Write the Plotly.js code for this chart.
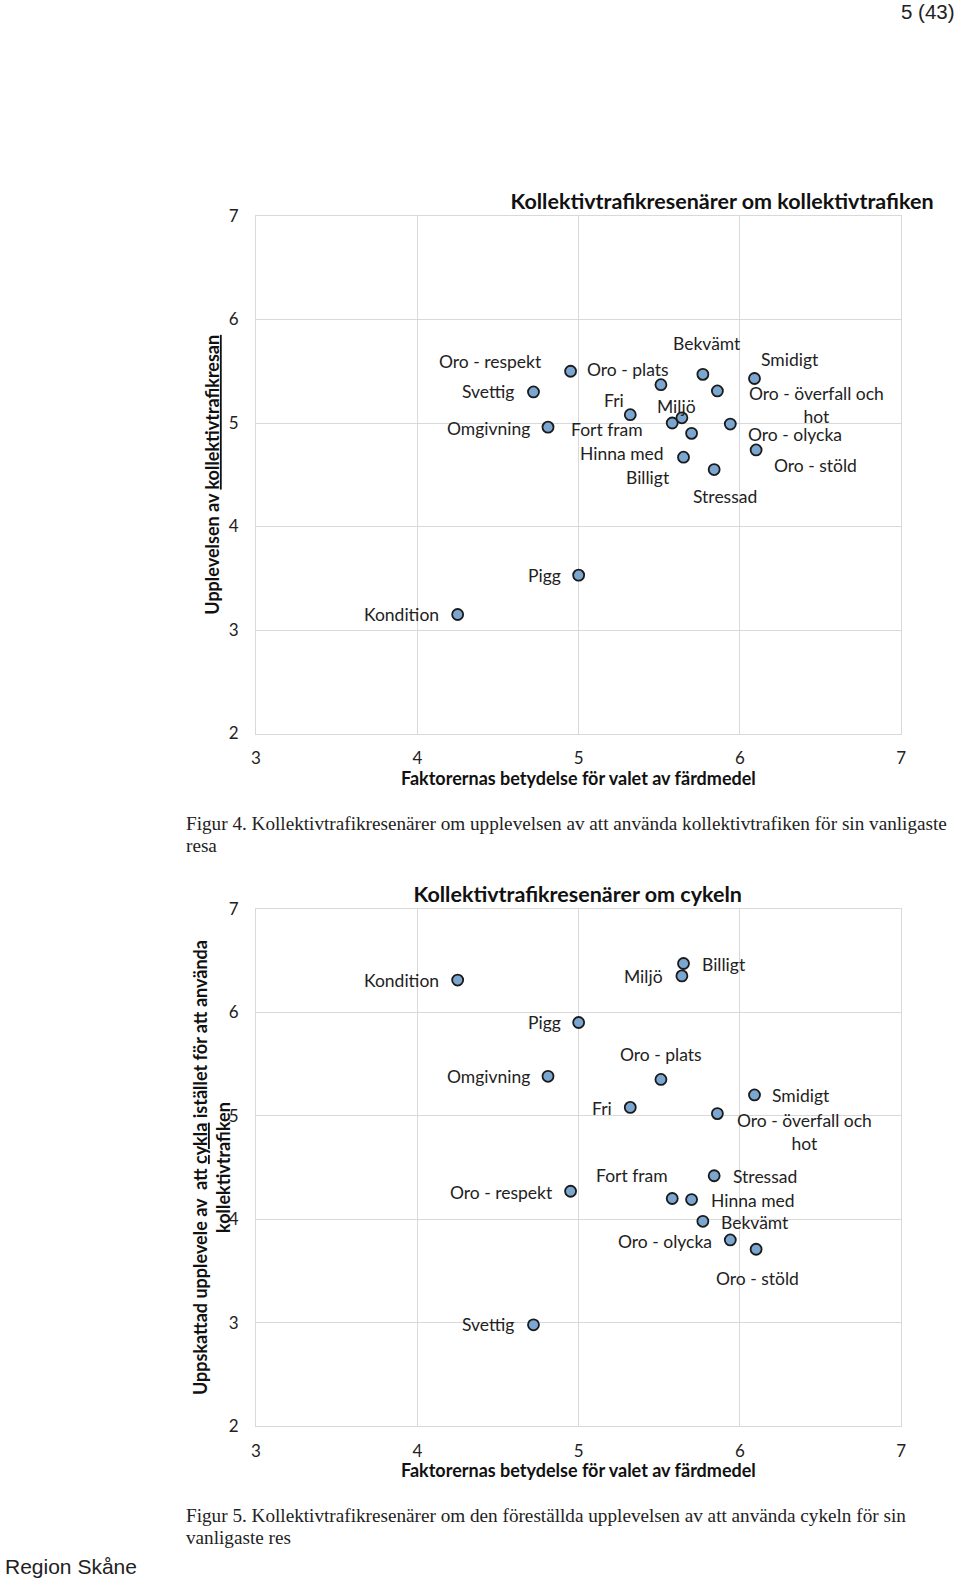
<!DOCTYPE html>
<html><head><meta charset="utf-8">
<script src="https://cdn.plot.ly/plotly-3.0.1.min.js"></script>
<style>
body{margin:0;padding:0;background:#fff;}
#c1{position:absolute;left:0;top:0;width:960px;height:860px;}
#c2{position:absolute;left:0;top:860px;width:960px;height:719px;}
</style>
</head><body>
<div id="c1"></div><div id="c2"></div>
<script>
// ---- data ----
const factors = ["Kondition","Pigg","Omgivning","Svettig","Oro - respekt","Fri","Oro - plats","Fort fram","Miljö","Billigt","Hinna med","Bekvämt","Stressad","Oro - överfall och hot","Oro - olycka","Smidigt","Oro - stöld"];
const labelText = ["Kondition","Pigg","Omgivning","Svettig","Oro - respekt","Fri","Oro - plats","Fort fram","Miljö","Billigt","Hinna med","Bekvämt","Stressad","Oro - överfall och<br>hot","Oro - olycka","Smidigt","Oro - stöld"];
// importance of the factor for choice of travel mode (x, shared)
const importance = [4.25, 5.00, 4.81, 4.72, 4.95, 5.32, 5.51, 5.58, 5.64, 5.65, 5.70, 5.77, 5.84, 5.86, 5.94, 6.09, 6.10];
// experience of the public transport trip (figure 4)
const experienceTransit = [3.15, 3.53, 4.96, 5.30, 5.50, 5.08, 5.37, 5.00, 5.05, 4.67, 4.90, 5.47, 4.55, 5.31, 4.99, 5.43, 4.74];
// estimated experience of cycling instead (figure 5)
const experienceBike = [6.31, 5.90, 5.38, 2.98, 4.27, 5.08, 5.35, 4.20, 6.35, 6.47, 4.19, 3.98, 4.42, 5.02, 3.80, 5.20, 3.71];
const xTicks = [3, 4, 5, 6, 7];
const yTicks = [2, 3, 4, 5, 6, 7];
const xTitle = 'Faktorernas betydelse för valet av färdmedel';

// ---- label placement (pixel offsets from each marker: dx right, dy down) ----
const offs1 = [[-56,0],[-34,0],[-60,1],[-45,0],[-80,-10],[-16,-14],[-33,-15],[-65,6],[-5,-11],[-36,20],[-70,20],[4,-31],[11,27],[99,14],[65,10],[36,-19],[59,16]];
const offs2 = [[-56,0],[-34,0],[-60,0],[-45,0],[-69,1],[-28,1],[0,-25],[-40,-23],[-38,1],[40,1],[61,1],[52,1],[51,1],[87,18],[-65,2],[47,1],[1,29]];

const FONT = "Lato, 'Open Sans', sans-serif";
const SERIF = "'Liberation Serif', 'Times New Roman', serif";
const ARIAL = "'Liberation Sans', Arial, sans-serif";
const GRID = '#d9d9d9';

function labels(yvals, offs){
  return factors.map((f,i)=>({
    x: importance[i], y: yvals[i], xref:'x', yref:'y',
    text: labelText[i], showarrow:false,
    xanchor:'center', yanchor:'middle',
    xshift: offs[i][0], yshift: -offs[i][1],
    font:{family:FONT, size:17.5, color:'#222'}
  }));
}

function axisX(){
  return {range:[3,7], tickvals:xTicks, showgrid:true, gridcolor:GRID, gridwidth:1,
    showline:true, mirror:true, linecolor:GRID, linewidth:1, zeroline:false, ticks:'',
    ticklabelstandoff:9, tickfont:{family:FONT, size:17, color:'#222'},
    domain:[256/960, 901.3/960], automargin:false, fixedrange:true};
}
function xTitleAnn(H, yc){
  return {xref:'paper', yref:'paper', x:578/960, y:1-yc/H, xanchor:'center', yanchor:'middle', showarrow:false,
    borderpad:0, text:'<b>'+xTitle+'</b>', font:{family:FONT, size:18, color:'#111'}};
}
function axisY(domain, title, standoff){
  return {range:[2,7], tickvals:yTicks, showgrid:true, gridcolor:GRID, gridwidth:1,
    showline:true, mirror:true, linecolor:GRID, linewidth:1, zeroline:false, ticks:'',
    ticklabelstandoff:13, tickfont:{family:FONT, size:17, color:'#222'},
    domain:domain, automargin:false, fixedrange:true,
    title:{text:title, standoff:standoff,
      font:{family:FONT, size:18, color:'#111', weight:'bold'}}};
}
const marker = {size:11, color:'#7aa6d0', line:{color:'#1a1a1a', width:1.8}};

// ---- figure 4 ----
const H1 = 860;
Plotly.newPlot('c1', [{
  type:'scatter', mode:'markers', x:importance, y:experienceTransit, text:factors,
  marker:marker, hoverinfo:'text+x+y'
}], {
  width:960, height:H1, margin:{l:0,r:0,t:0,b:0}, showlegend:false,
  paper_bgcolor:'#fff', plot_bgcolor:'#fff',
  title:{text:'Kollektivtrafikresenärer om kollektivtrafiken', xref:'container', yref:'container',
    x:722/960, y:1-201.5/H1, xanchor:'center', yanchor:'middle',
    font:{family:FONT, size:21.5, color:'#111', weight:'bold'}},
  xaxis:axisX(),
  yaxis:axisY([1-733.5/H1, 1-216/H1], 'Upplevelsen av <u>kollektivtrafikresan</u>', 4),
  annotations: labels(experienceTransit, offs1).concat([
    xTitleAnn(H1, 778),
    {xref:'paper', yref:'paper', x:957/960, y:1-11/H1, xanchor:'right', yanchor:'middle', showarrow:false,
     text:'5 (43)', font:{family:ARIAL, size:20.5, color:'#222'}},
    {xref:'paper', yref:'paper', x:184/960, y:1-823/H1, xanchor:'left', yanchor:'middle', align:'left', showarrow:false,
     text:'Figur 4. Kollektivtrafikresenärer om upplevelsen av att använda kollektivtrafiken för sin vanligaste',
     font:{family:SERIF, size:19.2, color:'#222'}},
    {xref:'paper', yref:'paper', x:184/960, y:1-845/H1, xanchor:'left', yanchor:'middle', align:'left', showarrow:false,
     text:'resa', font:{family:SERIF, size:19.2, color:'#222'}}
  ])
}, {displayModeBar:false, staticPlot:true});

// ---- figure 5 ----
const H2 = 719;
Plotly.newPlot('c2', [{
  type:'scatter', mode:'markers', x:importance, y:experienceBike, text:factors,
  marker:marker, hoverinfo:'text+x+y'
}], {
  width:960, height:H2, margin:{l:0,r:0,t:0,b:0}, showlegend:false,
  paper_bgcolor:'#fff', plot_bgcolor:'#fff',
  title:{text:'Kollektivtrafikresenärer om cykeln', xref:'container', yref:'container',
    x:577.7/960, y:1-34.5/H2, xanchor:'center', yanchor:'middle',
    font:{family:FONT, size:21.5, color:'#111', weight:'bold'}},
  xaxis:axisX(),
  yaxis:axisY([1-566.3/H2, 1-48.6/H2], '', 0),
  annotations: labels(experienceBike, offs2).concat([
    xTitleAnn(H2, 610),
    {xref:'paper', yref:'paper', x:211.5/960, y:1-307.5/H2, xanchor:'center', yanchor:'middle', showarrow:false,
     textangle:-90, align:'center',
     text:'<b>Uppskattad upplevele av  att <u>cykla</u> istället för att använda<br>kollektivtrafiken</b>',
     font:{family:FONT, size:18, color:'#111'}},
    {xref:'paper', yref:'paper', x:184/960, y:1-655/H2, xanchor:'left', yanchor:'middle', align:'left', showarrow:false,
     text:'Figur 5. Kollektivtrafikresenärer om den föreställda upplevelsen av att använda cykeln för sin',
     font:{family:SERIF, size:19.2, color:'#222'}},
    {xref:'paper', yref:'paper', x:184/960, y:1-677/H2, xanchor:'left', yanchor:'middle', align:'left', showarrow:false,
     text:'vanligaste res', font:{family:SERIF, size:19.2, color:'#222'}},
    {xref:'paper', yref:'paper', x:3/960, y:1-706/H2, xanchor:'left', yanchor:'middle', showarrow:false,
     text:'Region Skåne', font:{family:ARIAL, size:21, color:'#222'}}
  ])
}, {displayModeBar:false, staticPlot:true});
</script>
</body></html>
